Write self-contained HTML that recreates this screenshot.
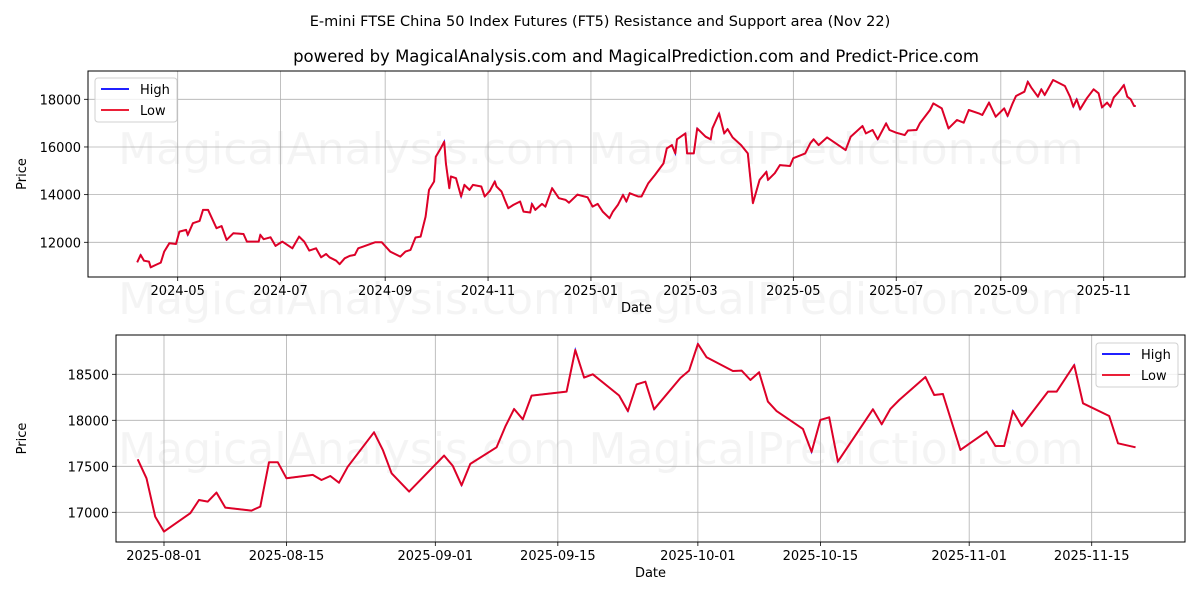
<!DOCTYPE html>
<html><head><meta charset="utf-8"><style>
body{margin:0;background:#fff;}
svg{display:block;font-family:"DejaVu Sans","Liberation Sans",sans-serif;}
</style></head><body>
<svg id="chart" width="1200" height="600" viewBox="0 0 1200 600" xmlns="http://www.w3.org/2000/svg">
<rect width="1200" height="600" fill="#fff"/>
<text x="600" y="26" text-anchor="middle" font-size="14.5">E-mini FTSE China 50 Index Futures (FT5) Resistance and Support area (Nov 22)</text>
<text x="636" y="62" text-anchor="middle" font-size="16.5">powered by MagicalAnalysis.com and MagicalPrediction.com and Predict-Price.com</text>
<g id="top"></g>
<g id="bot"></g>
</svg>
<script>
// Top panel data: day offset from 2024-05-01, value
const topDays=[-24,-22,-20,-17,-16,-13,-10,-8,-5,-1,1,5,6,9,13,15,18,23,26,29,33,39,41,48,49,51,55,58,62,68,72,75,78,82,85,88,90,94,96,99,102,105,107,110,117,121,126,132,135,138,141,144,147,149,152,153,156,158,159,161,162,165,168,170,173,175,180,182,185,188,189,192,194,196,199,203,205,209,210,212,216,218,222,224,226,230,232,237,243,246,249,252,256,258,261,264,266,268,273,275,279,283,288,290,293,295,296,301,302,306,308,313,316,317,321,324,326,329,334,338,341,345,349,350,354,357,363,365,372,375,377,380,385,396,399,406,408,412,415,420,422,426,431,433,438,440,446,448,453,457,462,466,469,475,477,481,485,490,492,495,497,502,504,506,510,512,514,519,526,529,531,533,535,539,543,546,548,551,553,555,558,561,563,565,567,568];
const topVals=[11160,11470,11230,11190,10950,11050,11150,11610,11960,11930,12450,12520,12310,12800,12900,13360,13360,12590,12680,12100,12380,12350,12030,12030,12310,12130,12210,11850,12030,11750,12240,12030,11650,11750,11370,11510,11370,11230,11080,11330,11430,11470,11750,11820,12000,12000,11610,11400,11610,11680,12200,12240,13080,14200,14550,15590,15950,16220,15310,14270,14760,14690,13920,14410,14200,14410,14340,13920,14150,14550,14340,14130,13770,13430,13570,13710,13290,13250,13610,13360,13610,13500,14270,14060,13850,13780,13660,14000,13890,13500,13610,13290,13010,13290,13570,13990,13710,14060,13920,13920,14480,14830,15310,15940,16080,15730,16320,16570,15730,15730,16780,16430,16320,16780,17410,16570,16750,16400,16080,15730,13640,14620,14960,14620,14900,15240,15200,15530,15730,16150,16320,16080,16400,15870,16430,16880,16570,16710,16320,16990,16710,16600,16500,16690,16710,16990,17550,17830,17620,16780,17130,17020,17550,17410,17340,17860,17270,17620,17300,17830,18140,18320,18740,18500,18110,18420,18180,18810,18560,18110,17690,18000,17580,18040,18420,18250,17660,17860,17690,18080,18320,18600,18110,18000,17720,17720];
const topXTicks=['2024-05','2024-07','2024-09','2024-11','2025-01','2025-03','2025-05','2025-07','2025-09','2025-11'];
const topXTickDays=[0,61,123,184,245,304,365,426,488,549];
const topYTicks=[12000,14000,16000,18000];
// Bottom panel data: day offset from 2025-08-01
const botDays=[-3,-2,-1,0,3,4,5,6,7,10,11,12,13,14,17,18,19,20,21,24,25,26,28,32,33,34,35,38,39,40,41,42,46,47,48,49,52,53,54,55,56,59,60,61,62,65,66,67,68,69,70,73,74,75,76,77,81,82,83,84,87,88,89,91,94,95,96,97,98,101,102,104,105,108,109,111];
const botVals=[17576,17370,16953,16790,16990,17134,17116,17214,17051,17018,17062,17544,17544,17370,17406,17351,17395,17322,17496,17870,17678,17424,17225,17616,17504,17294,17526,17707,17931,18123,18011,18268,18312,18764,18464,18500,18270,18100,18390,18420,18120,18460,18540,18830,18685,18536,18540,18438,18522,18203,18100,17906,17656,18004,18033,17551,18120,17957,18124,18221,18471,18275,18286,17678,17877,17721,17721,18101,17938,18312,18312,18601,18185,18047,17750,17707];
const botXTicks=['2025-08-01','2025-08-15','2025-09-01','2025-09-15','2025-10-01','2025-10-15','2025-11-01','2025-11-15'];
const botXTickDays=[0,14,31,45,61,75,92,106];
const botYTicks=[17000,17500,18000,18500];

const NS='http://www.w3.org/2000/svg';
function mk(parent,tag,attrs,text){const e=document.createElementNS(NS,tag);for(const k in attrs)e.setAttribute(k,attrs[k]);if(text!==undefined)e.textContent=text;parent.appendChild(e);return e;}

function panel(g,P,days,vals,xt,xtd,yt,legendX,legendY,wm,cid){
  const X=d=>P.x0+d*P.pxd, Y=v=>P.y0-(v-P.v0)*P.pxv;
  const defs=mk(g,'defs',{});
  const cp=mk(defs,'clipPath',{id:cid});
  mk(cp,'rect',{x:P.left,y:P.top,width:P.right-P.left,height:P.bot-P.top});
  wm.forEach(w=>{const t=mk(g,'text',{x:w[1],y:w[2],'text-anchor':'middle','font-size':44,fill:'#000','fill-opacity':0.045},w[0]);
    
    });
  xt.forEach((lab,i)=>{const x=X(xtd[i]);
    const l=mk(g,'line',{x1:x,x2:x,y1:P.top,y2:P.bot,stroke:'#b0b0b0','stroke-width':0.8});
    
    
    mk(g,'line',{x1:x,x2:x,y1:P.bot,y2:P.bot+4,stroke:'#000','stroke-width':0.8});
    const t=mk(g,'text',{x:x,y:P.bot+18,'text-anchor':'middle','font-size':13},lab);
    
    });
  yt.forEach(v=>{const y=Y(v);
    const l=mk(g,'line',{x1:P.left,x2:P.right,y1:y,y2:y,stroke:'#b0b0b0','stroke-width':0.8});
    
    
    mk(g,'line',{x1:P.left-4,x2:P.left,y1:y,y2:y,stroke:'#000','stroke-width':0.8});
    const t=mk(g,'text',{x:P.left-7,y:y+5,'text-anchor':'end','font-size':13},String(v));
    
    });
  const pts=days.map((d,i)=>X(d).toFixed(1)+','+Y(vals[i]).toFixed(1)).join(' ');
  const hi=mk(g,'polyline',{points:pts,fill:'none',stroke:'#0000ff','stroke-width':1.5,'clip-path':`url(#${cid})`});
  
  
  const lo=mk(g,'polyline',{points:pts,fill:'none',stroke:'#e8001c','stroke-width':2,'stroke-linejoin':'round','stroke-opacity':0.95,'clip-path':`url(#${cid})`});
  
  
  const fr=mk(g,'rect',{x:P.left,y:P.top,width:P.right-P.left,height:P.bot-P.top,fill:'none',stroke:'#000','stroke-width':1});
  
  
  const xl=mk(g,'text',{x:(P.left+P.right)/2,y:P.bot+35,'text-anchor':'middle','font-size':13},'Date');
  
  
  const yc=(P.top+P.bot)/2;
  const yl=mk(g,'text',{x:0,y:0,transform:`translate(${P.ylx},${yc}) rotate(-90)`,'text-anchor':'middle','font-size':13},'Price');
  
  
  const lg=mk(g,'g',{});
  
  
  mk(lg,'rect',{x:legendX,y:legendY,width:82,height:44,rx:3,fill:'#fff','fill-opacity':0.8,stroke:'#d0d0d0'});
  const e1=mk(lg,'g',{});
  
  
  mk(e1,'line',{x1:legendX+6,x2:legendX+34,y1:legendY+11,y2:legendY+11,stroke:'#0000ff','stroke-width':1.8});
  mk(e1,'text',{x:legendX+45,y:legendY+16,'font-size':13},'High');
  const e2=mk(lg,'g',{});
  
  
  mk(e2,'line',{x1:legendX+6,x2:legendX+34,y1:legendY+32,y2:legendY+32,stroke:'#e8001c','stroke-width':1.8});
  mk(e2,'text',{x:legendX+45,y:legendY+37,'font-size':13},'Low');
}
panel(document.getElementById('top'),
  {left:88,right:1185,top:71,bot:277,x0:177.7,pxd:1.6867,y0:99.3,v0:18000,pxv:143/6000,ylx:26},
  topDays,topVals,topXTicks,topXTickDays,topYTicks,95,78,
  [['MagicalAnalysis.com',347,164],['MagicalPrediction.com',836,164],['MagicalAnalysis.com',347,314],['MagicalPrediction.com',836,314]],'clipTop');
panel(document.getElementById('bot'),
  {left:116,right:1185,top:335,bot:542,x0:164,pxd:8.752,y0:374.3,v0:18500,pxv:46/500,ylx:26},
  botDays,botVals,botXTicks,botXTickDays,botYTicks,1096,343,
  [['MagicalAnalysis.com',347,464],['MagicalPrediction.com',836,464]],'clipBot');
</script>
</body></html>
